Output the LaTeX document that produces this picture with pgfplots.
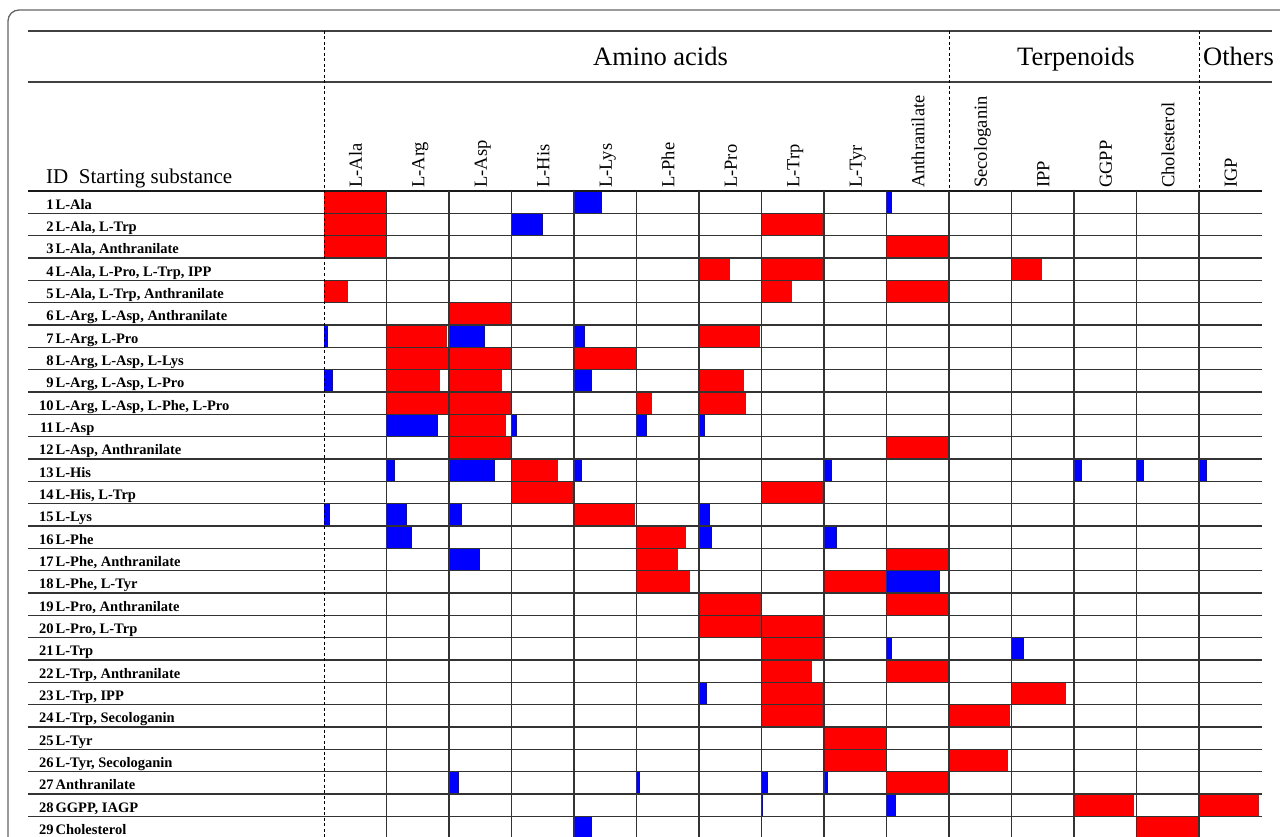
\documentclass[border=0pt]{standalone}
\usepackage{fontspec}
\setmainfont{Liberation Serif}
\usepackage{pgfplots}
\pgfplotsset{compat=1.18}
\usepackage{pgfplotstable}

% r = row (ID), c = column index (0 = L-Ala ... 14 = IGP), v = filled fraction of the cell
\pgfplotstableread{
r c v
1 0 1.0
2 0 1.0
2 7 1.0
3 0 1.0
3 9 1.0
4 6 0.5
4 7 1.0
4 11 0.49
5 0 0.38
5 7 0.49
5 9 1.0
6 2 1.0
7 1 0.97
7 6 0.97
8 1 1.0
8 2 1.0
8 4 0.99
9 1 0.85
9 2 0.85
9 6 0.72
10 1 1.0
10 2 1.0
10 5 0.25
10 6 0.75
11 2 0.91
12 2 1.0
12 9 1.0
13 3 0.75
14 3 1.0
14 7 1.0
15 4 0.98
16 5 0.79
17 5 0.66
17 9 1.0
18 5 0.85
18 8 1.0
19 6 1.0
19 9 1.0
20 6 1.0
20 7 1.0
21 7 1.0
22 7 0.81
22 9 1.0
23 7 1.0
23 11 0.87
24 7 1.0
24 10 0.97
25 8 1.0
26 8 1.0
26 10 0.95
27 9 1.0
28 12 0.96
28 14 0.96
29 13 0.99
}\redbars

\pgfplotstableread{
r c v
1 4 0.45
1 9 0.08
2 3 0.5
7 0 0.07
7 2 0.57
7 4 0.17
9 0 0.14
9 4 0.28
11 1 0.83
11 3 0.08
11 5 0.16
11 6 0.09
13 1 0.13
13 2 0.74
13 4 0.12
13 8 0.12
13 12 0.13
13 13 0.12
13 14 0.13
15 0 0.1
15 1 0.33
15 2 0.2
15 6 0.18
15 8 0.02
16 1 0.4
16 6 0.21
16 8 0.2
17 2 0.5
18 9 0.85
21 2 0.02
21 9 0.09
21 11 0.2
23 6 0.13
24 6 0.02
27 2 0.16
27 5 0.06
27 7 0.1
27 8 0.06
28 7 0.03
28 9 0.15
29 4 0.28
}\bluebars

\newcommand{\rowfont}{\fontsize{14.5}{17}\selectfont\bfseries}
\newcommand{\headfont}{\fontsize{18.5}{21}\selectfont}
\newcommand{\groupfont}{\fontsize{26.5}{30}\selectfont}
\newcommand{\rowlab}[2]{\node[anchor=base west, inner sep=0pt, font=\rowfont] at (40,{209.3+22.33*(#1-1)}) {\makebox[13.5pt][r]{#1}\hspace{2pt}#2};}
\newcommand{\colhead}[2]{\node[rotate=90, anchor=base west, inner sep=0pt, font=\headfont] at ({324+62.5*(#1+0.5)+6.5},188) {#2};}

\begin{document}
\begin{tikzpicture}
\begin{axis}[
  scale only axis, width=1280pt, height=837pt,
  xmin=0, xmax=1280, ymin=0, ymax=837, y dir=reverse,
  hide axis, clip=true,
]
% whole picture area (keeps the page as large as the axis)
\path (0,0) rectangle (1280,837);

\addplot[draw=none, mark=none, forget plot,
  error bars/.cd, x dir=plus, x explicit, error mark=none,
  error bar style={draw={rgb,255:red,255;green,0;blue,0}, line width=22.33pt}]
  table[x expr={324+62.5*\thisrow{c}}, y expr={191+22.33*(\thisrow{r}-0.5)}, x error expr={62.5*\thisrow{v}}] {\redbars};
\addplot[draw=none, mark=none, forget plot,
  error bars/.cd, x dir=plus, x explicit, error mark=none,
  error bar style={draw={rgb,255:red,0;green,0;blue,255}, line width=22.33pt}]
  table[x expr={324+62.5*\thisrow{c}}, y expr={191+22.33*(\thisrow{r}-0.5)}, x error expr={62.5*\thisrow{v}}] {\bluebars};

% outer rounded frame (continues beyond the picture's right and bottom edges)
\draw[black!60, line width=1.3pt, rounded corners=11pt] (8,837) -- (8,10) -- (1280,10);
% header rules
\draw[black!75, line width=1.3pt] (28,31) -- (1272,31);
\draw[black!75, line width=1.3pt] (28,82) -- (1272,82);
\draw[black!90, line width=1.3pt] (28,191) -- (1262,191);
% row rules
\pgfplotsinvokeforeach{1,...,28}{
  \draw[black!80, line width=1.2pt] (28,{191+22.33*#1}) -- (1262,{191+22.33*#1});
}
% column rules
\pgfplotsinvokeforeach{1,...,14}{
  \draw[black!80, line width=1.2pt] ({324+62.5*#1},191) -- ({324+62.5*#1},837);
}
% dashed group separators
\draw[black, line width=1pt, dash pattern=on 3pt off 2.5pt] (324,31) -- (324,837);
\draw[black, line width=1pt, dash pattern=on 3pt off 2.5pt] (949,31) -- (949,191);
\draw[black, line width=1pt, dash pattern=on 3pt off 2.5pt] (1199,31) -- (1199,191);

% group titles
\node[anchor=base west, inner sep=0pt, font=\groupfont] at (593,66) {Amino acids};
\node[anchor=base west, inner sep=0pt, font=\groupfont] at (1017,66) {Terpenoids};
\node[anchor=base west, inner sep=0pt, font=\groupfont] at (1203,66) {Others};
\node[anchor=base west, inner sep=0pt, font=\fontsize{21}{24}\selectfont] at (46,183.3) {ID~~Starting substance};

% column headers
\colhead{0}{L-Ala}
\colhead{1}{L-Arg}
\colhead{2}{L-Asp}
\colhead{3}{L-His}
\colhead{4}{L-Lys}
\colhead{5}{L-Phe}
\colhead{6}{L-Pro}
\colhead{7}{L-Trp}
\colhead{8}{L-Tyr}
\colhead{9}{Anthranilate}
\colhead{10}{Secologanin}
\colhead{11}{IPP}
\colhead{12}{GGPP}
\colhead{13}{Cholesterol}
\colhead{14}{IGP}

% row labels
\rowlab{1}{L-Ala}
\rowlab{2}{L-Ala, L-Trp}
\rowlab{3}{L-Ala, Anthranilate}
\rowlab{4}{L-Ala, L-Pro, L-Trp, IPP}
\rowlab{5}{L-Ala, L-Trp, Anthranilate}
\rowlab{6}{L-Arg, L-Asp, Anthranilate}
\rowlab{7}{L-Arg, L-Pro}
\rowlab{8}{L-Arg, L-Asp, L-Lys}
\rowlab{9}{L-Arg, L-Asp, L-Pro}
\rowlab{10}{L-Arg, L-Asp, L-Phe, L-Pro}
\rowlab{11}{L-Asp}
\rowlab{12}{L-Asp, Anthranilate}
\rowlab{13}{L-His}
\rowlab{14}{L-His, L-Trp}
\rowlab{15}{L-Lys}
\rowlab{16}{L-Phe}
\rowlab{17}{L-Phe, Anthranilate}
\rowlab{18}{L-Phe, L-Tyr}
\rowlab{19}{L-Pro, Anthranilate}
\rowlab{20}{L-Pro, L-Trp}
\rowlab{21}{L-Trp}
\rowlab{22}{L-Trp, Anthranilate}
\rowlab{23}{L-Trp, IPP}
\rowlab{24}{L-Trp, Secologanin}
\rowlab{25}{L-Tyr}
\rowlab{26}{L-Tyr, Secologanin}
\rowlab{27}{Anthranilate}
\rowlab{28}{GGPP, IAGP}
\rowlab{29}{Cholesterol}
\end{axis}
\end{tikzpicture}
\end{document}
